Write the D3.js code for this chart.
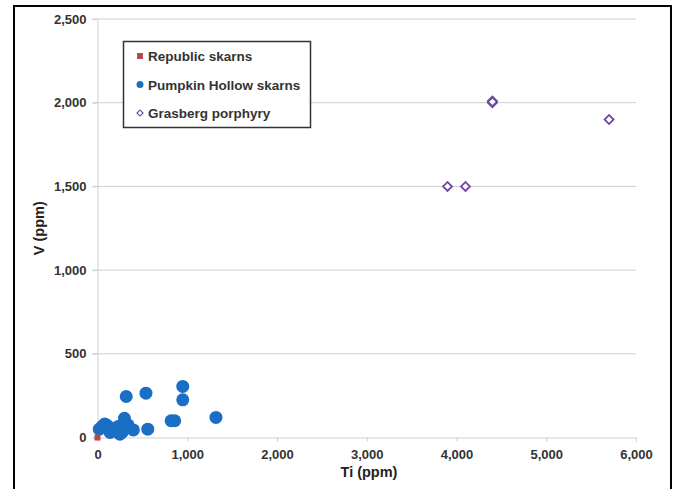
<!DOCTYPE html>
<html>
<head>
<meta charset="utf-8">
<script src="https://cdn.jsdelivr.net/npm/d3@7"></script>
<style>
  body { margin: 0; background: #fff; }
  text { font-family: "Liberation Sans", Arial, sans-serif; font-weight: bold; }
</style>
</head>
<body>
<svg id="chart" width="678" height="489"></svg>
<script>
// data
const republicTi = [0];
const republicV = [0];

const pumpkinTi = [20, 50, 80, 100, 130, 140, 170, 195, 230, 250, 280, 300, 320, 340, 400, 540, 560, 820, 860, 950, 950, 1320];
const pumpkinV  = [50, 65, 80, 75, 60, 30, 55, 40, 65, 20, 35, 115, 245, 75, 45, 265, 50, 100, 100, 305, 225, 120];

const grasbergTi = [4400, 4400, 4400, 5700, 3900, 4100];
const grasbergV  = [2000, 2010, 2005, 1900, 1500, 1500];

const xTicks = [0, 1000, 2000, 3000, 4000, 5000, 6000];
const yTicks = [0, 500, 1000, 1500, 2000, 2500];

const seriesNames = ["Republic skarns", "Pumpkin Hollow skarns", "Grasberg porphyry"];

let svg = d3.select("#chart");

// outer frame
svg.append("rect").attr("x", 14).attr("y", 6).attr("width", 657).attr("height", 500)
    .attr("fill", "none").attr("stroke", "#000").attr("stroke-width", 2);

let x = d3.scaleLinear().domain([0, 6000]).range([97.5, 636]);
let y = d3.scaleLinear().domain([0, 2500]).range([437.5, 19]);

const fmt = d3.format(",");

// gridlines
svg.append("g").selectAll("line").data(yTicks.slice(1)).enter().append("line")
    .attr("x1", x(0) - 5).attr("x2", x(6000))
    .attr("y1", d => y(d)).attr("y2", d => y(d))
    .attr("stroke", "#cfcfcf").attr("stroke-width", 1);

// y axis
let yAxis = svg.append("g").attr("transform", `translate(${x(0)},0)`)
    .call(d3.axisLeft(y).tickValues(yTicks).tickFormat(fmt).tickSize(5).tickPadding(6));
yAxis.select(".domain").attr("stroke", "#cfcfcf");
yAxis.selectAll(".tick line").attr("stroke", "#cfcfcf");
yAxis.selectAll("text").attr("font-size", 13).attr("fill", "#333").style("font-family", "Liberation Sans, Arial, sans-serif").style("font-weight", "bold");

// x axis
let xAxis = svg.append("g").attr("transform", `translate(0,${y(0)})`)
    .call(d3.axisBottom(x).tickValues(xTicks).tickFormat(fmt).tickSize(4).tickPadding(8));
xAxis.select(".domain").attr("stroke", "#cfcfcf");
xAxis.selectAll(".tick line").attr("stroke", "#cfcfcf");
xAxis.selectAll("text").attr("font-size", 13).attr("fill", "#333").style("font-family", "Liberation Sans, Arial, sans-serif").style("font-weight", "bold");

// axis titles
svg.append("text").attr("x", 369).attr("y", 477).attr("text-anchor", "middle")
    .attr("font-size", 14.5).attr("fill", "#222").text("Ti (ppm)");
svg.append("text").attr("transform", `translate(44,${(y(0) + y(2500)) / 2}) rotate(-90)`)
    .attr("text-anchor", "middle").attr("font-size", 14.5).attr("fill", "#222").text("V (ppm)");

// series
const blue = "#1a6ec4", red = "#b5484a", purple = "#7046a6";

svg.append("g").selectAll("circle").data(d3.zip(pumpkinTi, pumpkinV)).enter().append("circle")
    .attr("cx", d => x(d[0])).attr("cy", d => y(d[1])).attr("r", 6.5)
    .attr("fill", blue);

svg.append("g").selectAll("rect").data(d3.zip(republicTi, republicV)).enter().append("rect")
    .attr("x", d => x(d[0]) - 3).attr("y", d => y(d[1]) - 3)
    .attr("width", 6).attr("height", 6).attr("fill", red);

let diamond = d3.symbol().type(d3.symbolSquare).size(40);
svg.append("g").selectAll("path").data(d3.zip(grasbergTi, grasbergV)).enter().append("path")
    .attr("d", diamond)
    .attr("transform", d => `translate(${x(d[0])},${y(d[1])}) rotate(45)`)
    .attr("fill", "#fff").attr("stroke", purple).attr("stroke-width", 1.8);

// legend
let legend = svg.append("g");
legend.append("rect").attr("x", 123.5).attr("y", 41.5).attr("width", 187).attr("height", 86)
    .attr("fill", "#fff").attr("stroke", "#333").attr("stroke-width", 1.5);

let rows = legend.selectAll("g.item").data(seriesNames).enter().append("g")
    .attr("class", "item")
    .attr("transform", (d, i) => `translate(140,${56 + i * 28.5})`);

rows.append("text").attr("x", 8).attr("y", 5).attr("font-size", 13.5).attr("fill", "#333").text(d => d);

rows.filter((d, i) => i === 0).append("rect").attr("x", -3).attr("y", -3).attr("width", 6).attr("height", 6).attr("fill", red);
rows.filter((d, i) => i === 1).append("circle").attr("r", 3.5).attr("fill", blue);
rows.filter((d, i) => i === 2).append("path").attr("d", d3.symbol().type(d3.symbolSquare).size(18))
    .attr("transform", "rotate(45)").attr("fill", "#fff").attr("stroke", purple).attr("stroke-width", 1.2);
</script>
</body>
</html>
